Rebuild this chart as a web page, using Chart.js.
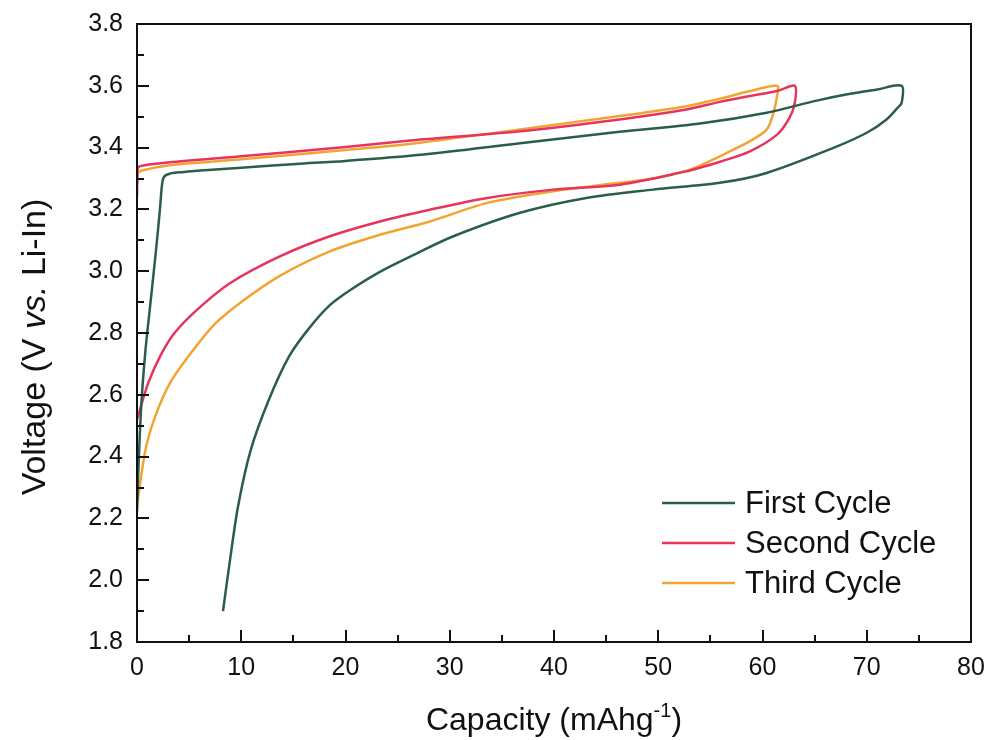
<!DOCTYPE html>
<html>
<head>
<meta charset="utf-8">
<script src="https://cdn.jsdelivr.net/npm/chart.js@4.4.1/dist/chart.umd.min.js"></script>
<style>
  html, body { margin: 0; padding: 0; background: #fff; }
  #wrap { width: 990px; height: 740px; }
</style>
</head>
<body>
<div id="wrap"><canvas id="area"></canvas></div>
<script>
// charge then discharge, one continuous path per cycle
var firstCap  = [0, 0.1, 0.4, 0.8, 1.3, 1.8, 2.2, 2.4, 2.6, 3.2, 4.5, 5.75, 10, 15.3, 20, 27.2, 36.75, 46.3, 54, 60.4, 65.2, 68.4, 71, 73.35,
                 73.35, 73.0, 71.9, 70, 66.8, 60.4, 55.9, 49.5, 43.1, 36.75, 30.35, 26.5, 23.3, 20.5, 18.5, 16.5, 14.6, 12.6, 10.9, 9.7, 8.9, 8.25];
var firstVolt = [2.22, 2.33, 2.56, 2.74, 2.9, 3.06, 3.2, 3.28, 3.306, 3.316, 3.321, 3.325, 3.335, 3.347, 3.357, 3.377, 3.414, 3.451, 3.478, 3.513, 3.552, 3.574, 3.588, 3.6,
                 3.545, 3.53, 3.491, 3.448, 3.399, 3.318, 3.286, 3.264, 3.237, 3.189, 3.113, 3.052, 2.998, 2.94, 2.89, 2.815, 2.725, 2.58, 2.42, 2.24, 2.06, 1.9];

var secondCap  = [0, 0.05, 0.3, 3, 10, 20, 27.2, 36.75, 46.3, 52.7, 55.9, 58.8, 61.5, 63.1,
                  63.1, 62.6, 61.4, 58.8, 56, 54, 52.7, 46.3, 39.9, 33.6, 28.1, 23.3, 18.5, 13.7, 8.95, 5.75, 3.6, 2.3, 1.1, 0];
var secondVolt = [3.24, 3.33, 3.34, 3.352, 3.372, 3.402, 3.426, 3.453, 3.491, 3.523, 3.548, 3.567, 3.584, 3.6,
                  3.545, 3.497, 3.442, 3.388, 3.355, 3.335, 3.323, 3.28, 3.264, 3.237, 3.199, 3.161, 3.113, 3.048, 2.962, 2.875, 2.8, 2.73, 2.64, 2.52];

var thirdCap  = [0, 0.08, 0.4, 3, 10, 20, 27.2, 36.75, 46.3, 52.7, 55.9, 58.8, 61.4,
                 61.4, 61.0, 60.4, 58.8, 56.4, 54, 52.7, 49.5, 46.3, 39.9, 33.6, 28.1, 23.3, 18.5, 13.7, 10.2, 7.5, 5.4, 3.2, 1.75, 0.8, 0];
var thirdVolt = [3.28, 3.315, 3.325, 3.342, 3.362, 3.392, 3.416, 3.459, 3.502, 3.534, 3.558, 3.583, 3.6,
                 3.567, 3.507, 3.458, 3.421, 3.38, 3.342, 3.325, 3.3, 3.286, 3.259, 3.221, 3.161, 3.118, 3.064, 2.985, 2.905, 2.83, 2.745, 2.64, 2.53, 2.42, 2.24];

var cycleNames  = ["First Cycle", "Second Cycle", "Third Cycle"];
var cycleColors = ["rgb(42, 94, 74)", "rgb(232, 52, 92)", "rgb(240, 165, 50)"];

var xTicks = [0, 10, 20, 30, 40, 50, 60, 70, 80];
var yTicks = [1.8, 2.0, 2.2, 2.4, 2.6, 2.8, 3.0, 3.2, 3.4, 3.6, 3.8];

var FONT = "'Liberation Sans', Arial, sans-serif";

function toPoints(xs, ys) {
  return xs.map(function (x, i) { return { x: x, y: ys[i] }; });
}

var series = [[firstCap, firstVolt], [secondCap, secondVolt], [thirdCap, thirdVolt]];

// inward ticks, box frame, axis titles and the legend
var decor = {
  id: 'decor',
  afterDraw: function (chart) {
    var ctx = chart.ctx, a = chart.chartArea;
    var sx = chart.scales.x, sy = chart.scales.y;
    ctx.save();
    ctx.strokeStyle = '#111';
    ctx.lineWidth = 2;
    ctx.strokeRect(a.left, a.top, a.right - a.left, a.bottom - a.top);

    ctx.beginPath();
    for (var v = 0; v <= 80; v += 5) {
      var px = Math.round(sx.getPixelForValue(v));
      var len = v % 10 === 0 ? 12 : 7;
      ctx.moveTo(px, a.bottom);
      ctx.lineTo(px, a.bottom - len);
    }
    for (var i = 0; i <= 20; i++) {
      var py = Math.round(sy.getPixelForValue(1.8 + i * 0.1));
      var l2 = i % 2 === 0 ? 12 : 7;
      ctx.moveTo(a.left, py);
      ctx.lineTo(a.left + l2, py);
    }
    ctx.stroke();

    // x title with superscript
    ctx.fillStyle = '#111';
    ctx.textBaseline = 'alphabetic';
    var cx = (a.left + a.right) / 2;
    var main = 'Capacity (mAhg', sup = '-1', tail = ')';
    ctx.font = '32px ' + FONT;
    var w1 = ctx.measureText(main).width, w3 = ctx.measureText(tail).width;
    ctx.font = '20px ' + FONT;
    var w2 = ctx.measureText(sup).width;
    var x0 = cx - (w1 + w2 + w3) / 2, base = 730;
    ctx.font = '32px ' + FONT;
    ctx.fillText(main, x0, base);
    ctx.font = '20px ' + FONT;
    ctx.fillText(sup, x0 + w1, base - 13);
    ctx.font = '32px ' + FONT;
    ctx.fillText(tail, x0 + w1 + w2, base);

    // y title, "vs." in italic
    var parts = [['Voltage (V ', 'normal'], ['vs.', 'italic'], [' Li-In)', 'normal']];
    var total = 0;
    parts.forEach(function (p) {
      ctx.font = p[1] + ' 34px ' + FONT;
      p.push(ctx.measureText(p[0]).width);
      total += p[2];
    });
    ctx.translate(45, (a.top + a.bottom) / 2 + 14);
    ctx.rotate(-Math.PI / 2);
    var xx = -total / 2;
    parts.forEach(function (p) {
      ctx.font = p[1] + ' 34px ' + FONT;
      ctx.fillText(p[0], xx, 0);
      xx += p[2];
    });
    ctx.restore();

    // legend
    ctx.save();
    ctx.font = '31px ' + FONT;
    ctx.textBaseline = 'middle';
    ctx.lineWidth = 2.5;
    chart.data.datasets.forEach(function (ds, k) {
      var y = 503 + k * 40;
      ctx.strokeStyle = ds.borderColor;
      ctx.beginPath();
      ctx.moveTo(662, y);
      ctx.lineTo(735, y);
      ctx.stroke();
      ctx.fillStyle = '#111';
      ctx.fillText(ds.label, 745, y + 1);
    });
    ctx.restore();
  }
};

var ctx = document.getElementById("area");
var myChart = new Chart(ctx, {
  type: 'scatter',
  data: {
    datasets: series.map(function (s, k) {
      return {
        label: cycleNames[k],
        data: toPoints(s[0], s[1]),
        showLine: true,
        borderColor: cycleColors[k],
        backgroundColor: cycleColors[k],
        borderWidth: 2.5,
        pointRadius: 0,
        tension: 0.3
      };
    })
  },
  options: {
    responsive: true,
    maintainAspectRatio: false,
    animation: false,
    layout: { padding: { top: 24, right: 19, bottom: 0, left: 0 } },
    plugins: { legend: { display: false }, tooltip: { enabled: false } },
    scales: {
      x: {
        type: 'linear', min: 0, max: 80,
        afterBuildTicks: function (s) { s.ticks = xTicks.map(function (v) { return { value: v }; }); },
        afterFit: function (s) { s.height = 98; s.paddingLeft = 0; s.paddingRight = 0; },
        grid: { display: false, drawTicks: false },
        border: { display: false },
        ticks: { color: '#111', padding: 11, font: { size: 25, family: FONT }, maxRotation: 0 }
      },
      y: {
        type: 'linear', min: 1.8, max: 3.8,
        afterBuildTicks: function (s) { s.ticks = yTicks.map(function (v) { return { value: v }; }); },
        afterFit: function (s) { s.width = 137; s.paddingTop = 0; s.paddingBottom = 0; },
        grid: { display: false, drawTicks: false },
        border: { display: false },
        ticks: { color: '#111', padding: 14, font: { size: 25, family: FONT },
                 callback: function (v) { return v.toFixed(1); } }
      }
    }
  },
  plugins: [decor]
});
</script>
</body>
</html>
